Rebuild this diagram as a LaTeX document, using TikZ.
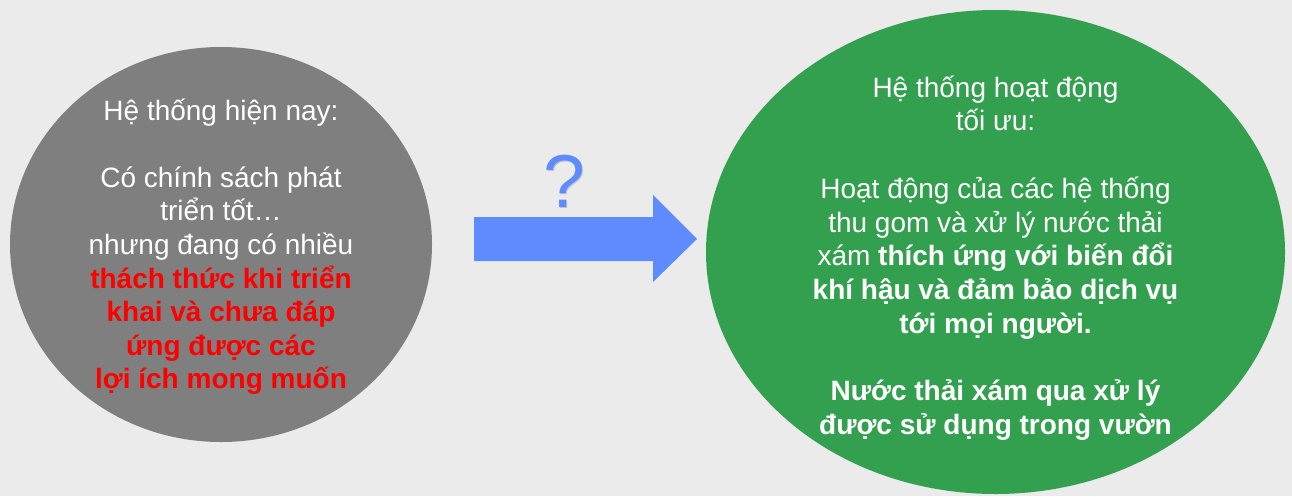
\documentclass[tikz,border=0pt]{standalone}
\usepackage{fontspec}
\setmainfont{Liberation Sans}
\usetikzlibrary{shapes.geometric}
\definecolor{bgc}{HTML}{EBEBEB}
\definecolor{grayc}{HTML}{7F7F7F}
\definecolor{greenc}{HTML}{33A04F}
\definecolor{arrowc}{HTML}{5E8CFF}
\definecolor{redc}{HTML}{FF0000}
\tikzset{
  txt/.style={font=\fontsize{28}{34}\selectfont, text=white, anchor=base, inner sep=0pt},
  redtxt/.style={txt, text=redc, font=\fontsize{28}{34}\selectfont\bfseries},
  boldtxt/.style={txt, font=\fontsize{28}{34}\selectfont\bfseries},
  blob/.style={ellipse, inner sep=0pt, draw=none}
}
\begin{document}
\begin{tikzpicture}[x=1pt,y=-1pt]
\useasboundingbox (0,0) rectangle (1292,496);
\fill[bgc] (0,0) rectangle (1292,496);
% circles
\node[blob, fill=grayc, minimum width=422pt, minimum height=395pt] (cur) at (221,244.5) {};
\node[blob, fill=greenc, minimum width=579pt, minimum height=484pt] (opt) at (995.5,252) {};
% arrow
\coordinate (as) at (474,239);
\fill[arrowc] (474,217) -- (653,217) -- (653,195) -- (697,239) -- (653,282) -- (653,261) -- (474,261) -- cycle;
% question mark
\node[anchor=base, inner sep=0pt, font=\fontsize{75}{75}\selectfont, text=black, opacity=0.18] (qs) at (565.5,208.5) {?};
\node[anchor=base, inner sep=0pt, font=\fontsize{75}{75}\selectfont, text=arrowc] (q) at (564,207) {?};
% left text
\node[txt] (l1) at (221,120) {Hệ thống hiện nay:};
\node[txt] (l2) at (221,187.2) {Có chính sách phát};
\node[txt] (l3) at (221,220.8) {triển tốt…};
\node[txt] (l4) at (221,254.4) {nhưng đang có nhiều};
\node[redtxt] (l5) at (221,288) {thách thức khi triển};
\node[redtxt] (l6) at (221,321.6) {khai và chưa đáp};
\node[redtxt] (l7) at (221,355.2) {ứng được các};
\node[redtxt] (l8) at (221,388.8) {lợi ích mong muốn};
% right text
\node[txt] (r1) at (995.5,97) {Hệ thống hoạt động};
\node[txt] (r2) at (995.5,130.75) {tối ưu:};
\node[txt] (r3) at (995.5,198.25) {Hoạt động của các hệ thống};
\node[txt] (r4) at (995.5,232) {thu gom và xử lý nước thải};
\node[txt] (r5) at (995.5,265.75) {xám \textbf{thích ứng với biến đổi}};
\node[boldtxt] (r6) at (995.5,299.5) {khí hậu và đảm bảo dịch vụ};
\node[boldtxt] (r7) at (995.5,333.25) {tới mọi người.};
\node[boldtxt] (r8) at (995.5,400.75) {Nước thải xám qua xử lý};
\node[boldtxt] (r9) at (995.5,434.5) {được sử dụng trong vườn};
\end{tikzpicture}
\end{document}
